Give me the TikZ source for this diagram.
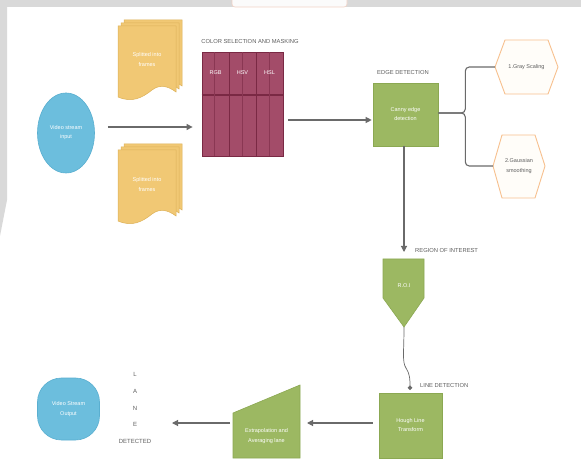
\documentclass[tikz,border=0pt]{standalone}
\usepackage{fontspec}
\setmainfont{Liberation Sans}
\usetikzlibrary{arrows.meta,calc,shapes.geometric}
\definecolor{framegray}{HTML}{D9D9D9}
\definecolor{bluefill}{HTML}{6CBEDD}
\definecolor{blueline}{HTML}{5AAFD0}
\definecolor{yellowfill}{HTML}{F1C874}
\definecolor{yellowline}{HTML}{DDB158}
\definecolor{magfill}{HTML}{A34C69}
\definecolor{magline}{HTML}{7A2944}
\definecolor{greenfill}{HTML}{9CB862}
\definecolor{greenline}{HTML}{8BA852}
\definecolor{orangeline}{HTML}{F7C08E}
\definecolor{hexfill}{HTML}{FFFDF9}
\definecolor{linegray}{HTML}{6A6A6A}
\definecolor{textgray}{HTML}{5E5E5E}
\definecolor{peach}{HTML}{F2D3C6}
\begin{document}
\begin{tikzpicture}[x=1pt,y=-1pt,
  intext/.style={text=white,font=\fontsize{5.5}{7}\selectfont,align=center,inner sep=0pt},
  hextext/.style={text=textgray,font=\fontsize{5.5}{7}\selectfont,align=center,inner sep=0pt},
  caplabel/.style={text=textgray,font=\fontsize{5.8}{7}\selectfont,inner sep=0pt},
  bluebox/.style={fill=bluefill,draw=blueline,line width=0.6pt,text=white,font=\fontsize{5.5}{7}\selectfont,align=center},
  greenbox/.style={fill=greenfill,draw=greenline,line width=0.6pt,text=white,font=\fontsize{5.5}{7}\selectfont,align=center},
  conn/.style={draw=linegray,line width=1.1pt},
  arr/.style={conn,-{Triangle[length=6pt,width=6pt]}},
  page/.style={fill=yellowfill,draw=yellowline,line width=0.5pt},
  hexshape/.style={fill=hexfill,draw=orangeline,line width=0.9pt}
]
\useasboundingbox (0,0) rectangle (581,462);
\fill[white] (0,0) rectangle (581,462);
% background frame remnants
\fill[framegray] (0,0) rectangle (581,7);
\fill[framegray] (0,0) -- (7,0) -- (7,200) -- (0,236) -- cycle;
\fill[white!90!framegray,draw=peach,line width=0.6pt,rounded corners=3pt] (232,-5) rectangle (347,7);

% input
\node[bluebox,ellipse,minimum width=57pt,minimum height=80pt,inner sep=0pt] (input) at (66,133) {Video stream\\[2pt]input};

% documents
\foreach \ox/\oy in {118/20,118/144}{
  \begin{scope}[shift={(\ox,\oy)}]
    \foreach \d in {6,3,0}{
      \path[page] (\d,6-\d) -- ++(58,0) -- ++(0,66)
        .. controls ++(-8,-6) and ++(8,-6) .. ++(-24,-2)
        .. controls ++(-10,8) and ++(14,6) .. ++(-34,7) -- cycle;
    }
  \end{scope}
}
\node[intext] (docAt) at (147,60) {Splitted into\\[3pt]frames};
\node[intext] (docBt) at (147,185) {Splitted into\\[3pt]frames};

% colour selection grid
\node[fill=magfill,draw=magline,line width=0.8pt,minimum width=81pt,minimum height=104pt,inner sep=0pt] (color) at (242.5,104.5) {};
\draw[magline,line width=1.4pt] (color.west |- 0,95) -- (color.east |- 0,95);
\draw[magline,line width=0.9pt] (229,52.5) -- (229,156.5) (256,52.5) -- (256,156.5);
\draw[magline!60!magfill,line width=0.4pt] (214,52.5) -- (214,156.5) (242,52.5) -- (242,156.5) (269,52.5) -- (269,156.5);
\node[intext] (rgb) at (215.5,73) {RGB};
\node[intext] (hsv) at (242.5,73) {HSV};
\node[intext] (hsl) at (269.5,73) {HSL};
\node[caplabel] (colorlab) at (250,42) {COLOR SELECTION AND MASKING};

% arrow input -> colour
\draw[arr,shorten <=13pt,shorten >=9pt] (input.east |- 0,127) -- (color.west |- 0,127);

% canny
\node[greenbox,minimum width=65pt,minimum height=63pt,inner sep=0pt] (canny) at (405.5,114.5) {Canny edge\\[2pt]detection};
\node[caplabel] (edgelab) at (403,73) {EDGE DETECTION};
\draw[arr,shorten <=5pt,shorten >=1pt] (color.east |- 0,120) -- (canny.west |- 0,120);

% hexagons
\draw[hexshape] (495,67) -- (505,40) -- (548,40) -- (558,67) -- (548,94) -- (505,94) -- cycle;
\coordinate (h1w) at (495,67);
\node[hextext] (h1) at (526.5,67) {1.Gray Scaling};
\draw[hexshape] (493,166) -- (502,135) -- (535,135) -- (545,166) -- (535,198) -- (502,198) -- cycle;
\coordinate (h2w) at (493,166);
\node[hextext] (h2) at (519,166) {2.Gaussian\\[3pt]smoothing};
\draw[conn,rounded corners=4pt] (canny.east |- 0,113) -- ++(27,0) |- (h1w);
\draw[conn,rounded corners=4pt] (canny.east |- 0,113) -- ++(27,0) |- (h2w);

% ROI
\coordinate (roiN) at (404,259);
\coordinate (roiS) at (404,327);
\draw[greenbox] (383,259) -- (424,259) -- (424,298) -- (roiS) -- (383,298) -- cycle;
\node[intext] (roi) at (404,286) {R.O.I};
\draw[arr,shorten >=7pt] (canny.south -| roiN) -- (roiN);
\node[caplabel,anchor=west] (roilab) at (415,251) {REGION OF INTEREST};

% Hough
\node[greenbox,minimum width=63pt,minimum height=65pt,inner sep=0pt] (hough) at (410.5,425.5) {Hough Line\\[2pt]Transform};
\coordinate (houghTop) at (410,390);
\draw[draw=linegray,line width=0.7pt,-{Circle[length=4.5pt]}] (roiS) .. controls (404,352) and (402,362) .. (406,368) .. controls (410,374) and (410,380) .. (houghTop);
\node[caplabel,anchor=west] (linelab) at (420,386) {LINE DETECTION};

% extrapolation
\coordinate (trapE) at (300,423);
\coordinate (trapW) at (233,423);
\draw[greenbox] (233,413) -- (300,385) -- (300,458) -- (233,458) -- cycle;
\node[intext] (extrap) at (266.5,436) {Extrapolation and\\[3pt]Averaging lane};
\draw[arr,shorten <=6pt,shorten >=7pt] (hough.west |- trapE) -- (trapE);
\coordinate (arrEnd) at (172,423);
\draw[arr,shorten <=3pt] (trapW) -- (arrEnd);

% lane detected
\node[caplabel,align=center,font=\fontsize{6}{16.7}\selectfont] (lane) at (135,408) {L\\A\\N\\E\\DETECTED};

% output
\node[bluebox,rounded corners=24pt,minimum width=62pt,minimum height=62pt,inner sep=0pt] (output) at (68.5,409) {Video Stream\\[3pt]Output};
\end{tikzpicture}
\end{document}
